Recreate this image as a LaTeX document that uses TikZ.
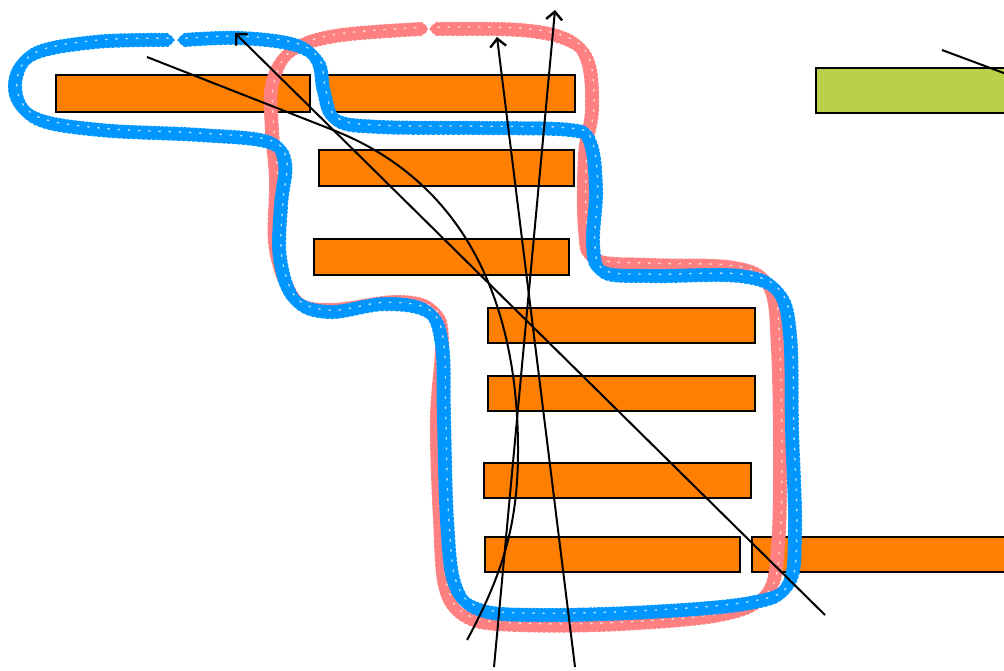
\documentclass[tikz,border=0pt]{standalone}
\usetikzlibrary{arrows.meta}
\definecolor{barorange}{HTML}{FF7F00}
\definecolor{bargreen}{HTML}{BBCF4A}
\definecolor{loopblue}{HTML}{0096FF}
\definecolor{looppink}{HTML}{FF8080}
\tikzset{
  bar/.style={draw=black, line width=0.9pt, fill=barorange},
  crayon/.style={line cap=round, line join=round},
  loopcore/.style={line width=5.6pt},
  loopedge/.style={line width=1.4pt},
  loopedgeA/.style={loopedge, xshift=2.8pt, dash pattern=on 1.3pt off 0.9pt},
  loopedgeB/.style={loopedge, xshift=-2.8pt, dash pattern=on 1.7pt off 0.7pt},
  loopedgeC/.style={loopedge, yshift=2.8pt, dash pattern=on 1.1pt off 0.8pt},
  loopedgeD/.style={loopedge, yshift=-2.8pt, dash pattern=on 1.5pt off 1pt},
  loopspeck/.style={line width=0.7pt, draw=white, opacity=0.7, xshift=0.9pt,
    yshift=0.9pt, dash pattern=on 0.8pt off 4.3pt},
  track/.style={draw=black, line width=1pt},
  tip/.style={-{Straight Barb[length=4pt,width=8pt,line width=1.2pt]}}
}

\begin{document}
\begin{tikzpicture}[x=0.5pt,y=-0.5pt]
    \useasboundingbox (0,0) rectangle (1004,670);
    \clip (0,0) rectangle (1004,670);

    % Bars
    \draw[bar] (56,75) rectangle (310,112);
    \draw[bar] (327,75) rectangle (575,112);
    \draw[bar] (319,150) rectangle (574,186);
    \draw[bar] (314,239) rectangle (569,275);
    \draw[bar] (488,308) rectangle (755,343);
    \draw[bar] (488,376) rectangle (755,411);
    \draw[bar] (484,463) rectangle (751,498);
    \draw[bar] (485,537) rectangle (740,572);
    \draw[bar] (752,537) rectangle (1020,572);
    \draw[bar, fill=bargreen] (816,68) rectangle (1020,113);

    % Pink loop
    \foreach \sty in {loopcore, loopedgeA, loopedgeB, loopedgeC, loopedgeD, loopspeck} {
        \draw[crayon, draw=looppink, \sty]
            plot[smooth, tension=0.6] coordinates {
                (436,29) (520,30) (568,40) (588,62) (592,110) (585,155)
                (585,230) (596,260) (650,265) (735,268) (770,288) (778,350)
                (780,460) (778,545) (768,592) (725,614) (620,624) (520,625)
                (468,618) (446,590) (440,520) (437,420) (442,340) (432,310)
                (395,302) (330,310) (296,300) (276,250) (276,180) (272,130)
                (272,85) (290,52) (335,36) (422,29)};
    }

    % Blue loop
    \foreach \sty in {loopcore, loopedgeA, loopedgeB, loopedgeC, loopedgeD, loopspeck} {
        \draw[crayon, draw=loopblue, \sty]
            plot[smooth, tension=0.6] coordinates {
                (184,40) (240,38) (295,45) (318,62) (324,92) (336,120)
                (380,127) (480,128) (570,130) (590,142) (596,190) (593,245)
                (603,272) (650,276) (740,276) (778,292) (790,335) (792,430)
                (795,530) (788,585) (750,603) (650,612) (540,615) (480,610)
                (455,585) (447,520) (444,420) (442,345) (428,312) (385,304)
                (330,312) (295,300) (280,258) (281,205) (285,163) (268,142)
                (200,135) (100,130) (35,118) (15,88) (32,55) (95,42) (168,40)};
    }

    % Track ends
    \coordinate (diagS) at (825,615);
    \coordinate (diagE) at (235,33);
    \coordinate (leftS) at (575,667);
    \coordinate (leftE) at (497,37);
    \coordinate (rightS) at (494,667);
    \coordinate (rightE) at (555,10);
    \coordinate (bendS) at (147,57);
    \coordinate (bendM) at (333,130);
    \coordinate (bendL) at (518,450);
    \coordinate (bendE) at (467,640);
    \coordinate (greenS) at (942,50);
    \coordinate (greenE) at (1060,94);

    % Tracks
    \draw[track, tip] (diagS) -- (diagE);
    \draw[track, tip] (leftS) -- (leftE);
    \draw[track, tip] (rightS) -- (rightE);
    \draw[track] (bendS) -- (bendM)
        .. controls (463,181) and (518,300) .. (bendL)
        .. controls (518,520) and (505,570) .. (bendE);
    \draw[track] (greenS) -- (greenE);
\end{tikzpicture}
\end{document}
